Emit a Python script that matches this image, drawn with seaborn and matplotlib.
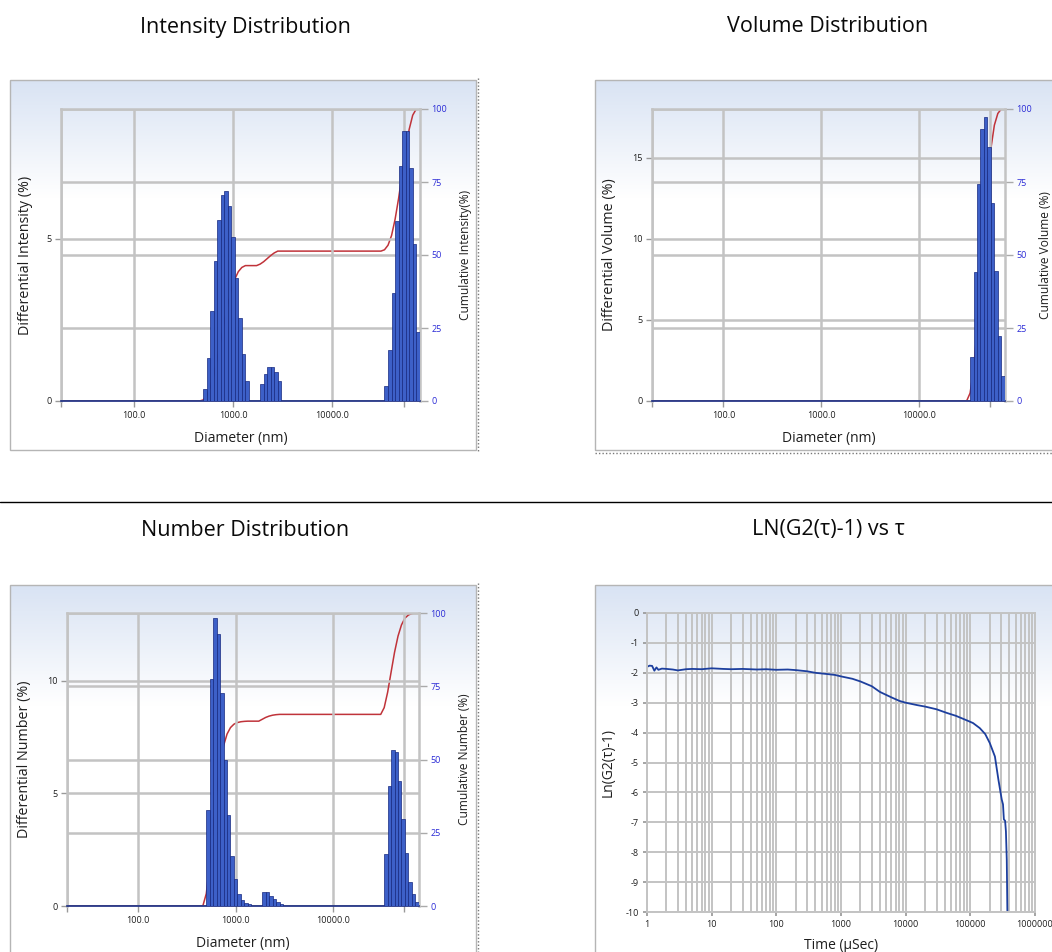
import numpy as np
import pandas as pd
import matplotlib
matplotlib.use("Agg")
import matplotlib.pyplot as plt
from matplotlib.lines import Line2D
from matplotlib.patches import Rectangle
from matplotlib.ticker import (LogLocator, NullFormatter, FuncFormatter,
                               NullLocator, FixedLocator)
import seaborn as sns

# ---------------- data ----------------
# bar centres (nm) shared by the intensity / number distributions
dist_diam = [520, 564, 612, 664, 721, 782, 849, 921, 1000, 1085, 1177, 1277, 1386,
             1949, 2115, 2295, 2490, 2702, 2933,
             34740, 37700, 40910, 44390, 48170, 52270, 56720, 61550, 66790, 72470]
intensity_pct = [0.36, 1.34, 2.76, 4.30, 5.58, 6.36, 6.46, 6.00, 5.04, 3.79, 2.57, 1.44, 0.63,
                 0.51, 0.83, 1.06, 1.06, 0.90, 0.63,
                 0.46, 1.57, 3.34, 5.55, 7.23, 8.31, 8.31, 7.18, 4.85, 2.14]
number_pct = [4.24, 10.07, 12.78, 12.08, 9.45, 6.46, 4.02, 2.23, 1.18, 0.55, 0.28, 0.13, 0.07,
              0.64, 0.64, 0.46, 0.31, 0.18, 0.10,
              2.31, 5.31, 6.92, 6.83, 5.54, 3.85, 2.34, 1.05, 0.52, 0.18]
volume_diam = [34740, 37700, 40910, 44390, 48170, 52270, 56720, 61550, 66790, 72470]
volume_pct = [2.69, 7.97, 13.40, 16.75, 17.53, 15.68, 12.20, 8.00, 4.00, 1.52]

diam_ticks = [18.6, 100, 1000, 10000, 53000]
diam_tick_labels = ["", "100.0", "1000.0", "10000.0", ""]
cum_ticks = [0, 25, 50, 75, 100]

# correlation function ln(G2(tau)-1)
tau_us = [1, 1.1, 1.2, 1.3, 1.4, 1.5, 1.7, 2, 2.5, 3, 4, 5, 7, 10, 15, 20, 30, 50, 70,
          100, 150, 200, 300, 400, 600, 800, 1000, 1500, 2000, 3000, 4000, 6000, 8000,
          10000, 15000, 20000, 30000, 43000, 60000, 88000, 110000, 140000, 170000,
          200000, 240000, 272000, 306000, 320000, 330000, 345000, 355000, 366000,
          374000, 380000]
ln_g2 = [-1.80, -1.76, -1.77, -1.93, -1.82, -1.90, -1.86, -1.87, -1.89, -1.92, -1.88,
         -1.87, -1.88, -1.85, -1.87, -1.88, -1.87, -1.89, -1.88, -1.90, -1.89, -1.91,
         -1.95, -2.00, -2.04, -2.07, -2.12, -2.20, -2.29, -2.45, -2.64, -2.82, -2.94,
         -3.00, -3.08, -3.13, -3.22, -3.34, -3.44, -3.59, -3.68, -3.85, -4.05, -4.35,
         -4.80, -5.58, -6.24, -6.40, -6.90, -6.95, -7.30, -8.25, -10.0, -10.6]

# ---------------- style ----------------
sns.set_theme(style="white")
plt.rcParams['font.family'] = ['Open Sans', 'DejaVu Sans']

W, H = 1052, 952
BW = 0.0355            # bar width in decades
XLIM = (18.6, 75900)
GRID = '#c3c3c3'
BAR_FILL = '#3d60c8'
BAR_EDGE = '#16287f'
RED = '#c0333a'
BLUE_TXT = '#2b2bd6'
TXT = '#1e1e1e'

fig = plt.figure(figsize=(W / 100, H / 100), dpi=100)
fig.patch.set_facecolor('white')


def frac(x0, y0, x1, y1):
    return [x0 / W, 1 - y1 / H, (x1 - x0) / W, (y1 - y0) / H]


def panel_bg(x0, y0, x1, y1):
    bg = fig.add_axes(frac(x0, y0, x1, y1), zorder=-5)
    t = np.clip(np.linspace(0, 1, 300) / 0.32, 0, 1)
    top = np.array([0.85, 0.89, 0.955])
    img = top[None, :] * (1 - t[:, None]) + np.ones(3)[None, :] * t[:, None]
    bg.imshow(img[:, None, :], aspect='auto', extent=[0, 1, 0, 1])
    bg.set_axis_off()
    bg.add_patch(Rectangle((0, 0), 1, 1, transform=bg.transAxes, fill=False,
                           ec='#b5b5b5', lw=1.0, clip_on=False))
    return bg


def dist_panel(axpx, diam, pct, ymax, yticks, ylab, rlab, lab_x, rlab_x, xlab_y):
    ax = fig.add_axes(frac(*axpx))
    lc = np.log10(np.asarray(diam, float))
    edges = []
    starts = []
    for i, c in enumerate(lc):
        edges.append(float(c - BW / 2))
        if i == 0 or c - lc[i - 1] > 1.5 * BW:
            starts.append(i)
        if i == len(lc) - 1 or lc[i + 1] - c > 1.5 * BW:
            edges.append(float(c + BW / 2))
    df = pd.DataFrame({'diam': diam, 'pct': pct})
    sns.histplot(data=df, x='diam', weights='pct', bins=edges,
                 log_scale=True, ax=ax, stat='count', element='bars', fill=True,
                 color=BAR_FILL, edgecolor=BAR_EDGE, linewidth=0.5, alpha=1,
                 shrink=1, zorder=3)

    # cumulative curve (drawn behind the bars on a twin axis)
    ax2 = ax.twinx()
    left = lc - BW / 2
    cum = np.cumsum(pct) / np.sum(pct) * 100
    cx, cy = [XLIM[0]], [0.0]
    for i in range(len(lc)):
        if i in starts:
            cx.append(10 ** (left[i] - BW))
            cy.append(cum[i - 1] if i > 0 else 0.0)
        cx.append(10 ** left[i])
        cy.append(cum[i])
    cx.append(XLIM[1])
    cy.append(100.0)
    sns.lineplot(x=cx, y=cy, ax=ax2, color=RED, lw=1.1, estimator=None, sort=False)

    ax.set_zorder(2)
    ax2.set_zorder(1)
    ax.patch.set_visible(False)
    ax2.patch.set_visible(False)

    ax.set_xlim(*XLIM)
    ax.set_ylim(0, ymax)
    ax2.set_ylim(0, 100)
    ax.xaxis.set_major_locator(FixedLocator(diam_ticks))
    ax.set_xticklabels(diam_tick_labels)
    ax.xaxis.set_minor_locator(NullLocator())
    ax.set_yticks(yticks)
    ax.set_yticklabels([str(v) for v in yticks])
    ax2.set_yticks(cum_ticks)
    ax2.set_yticklabels([str(v) for v in cum_ticks])

    ax.set_axisbelow(True)
    ax.grid(True, axis='both', color=GRID, lw=1.8)
    ax2.grid(True, axis='y', color=GRID, lw=1.8)
    ax2.grid(False, axis='x')

    for s in ['top', 'left', 'right']:
        ax.spines[s].set_color(GRID)
        ax.spines[s].set_linewidth(1.8)
    ax.spines['bottom'].set_color(BAR_EDGE)
    ax.spines['bottom'].set_linewidth(1.2)
    for s in ax2.spines.values():
        s.set_visible(False)

    ax.tick_params(axis='x', length=4, width=1, color='#999999', labelsize=6.5,
                   labelcolor=TXT, pad=3, bottom=True)
    ax.tick_params(axis='y', length=4, width=1, color='#999999', labelsize=6.5,
                   labelcolor=TXT, pad=3, left=True)
    ax2.tick_params(axis='y', length=6, width=1, color='#aaaaaa', labelsize=6.5,
                    labelcolor=BLUE_TXT, pad=2, right=True)

    ax.set_xlabel('Diameter (nm)', fontsize=10, color=TXT)
    ax.set_ylabel(ylab, fontsize=10.3, color=TXT)
    ax2.set_ylabel(rlab, fontsize=8.6, color=TXT)
    ax.yaxis.set_label_coords(lab_x, 0.5)
    ax2.yaxis.set_label_coords(rlab_x, 0.5)
    ax.xaxis.set_label_coords(0.5, xlab_y)
    return ax


# panel backgrounds
panel_bg(10, 80, 476, 450)
panel_bg(595, 80, 1060, 450)
panel_bg(10, 585, 476, 960)
panel_bg(595, 585, 1060, 960)

# titles
for txt, cx, cy in [("Intensity Distribution", 245, 27), ("Volume Distribution", 828, 27),
                    ("Number Distribution", 245, 530), ("LN(G2(τ)-1) vs τ", 828, 530)]:
    fig.text(cx / W, 1 - cy / H, txt, ha='center', va='center', fontsize=15.5, color='#0a0a0a')

# separator and dotted frames
fig.add_artist(Line2D([0, 1], [1 - 502 / H] * 2, color='black', lw=1.0))
for y0, y1 in [(78, 452), (583, 952)]:
    fig.add_artist(Line2D([478 / W] * 2, [1 - y0 / H, 1 - y1 / H], color='#777777',
                          lw=1.0, ls=(0, (1, 1.5))))
fig.add_artist(Line2D([595 / W, 1], [1 - 453 / H] * 2, color='#777777', lw=1.0,
                      ls=(0, (1, 1.5))))

dist_panel((61, 109, 420, 401), dist_diam, intensity_pct, 9, [0, 5],
           'Differential Intensity (%)', 'Cumulative Intensity(%)', -0.078, 1.108, -0.103)
dist_panel((652, 109, 1005, 401), volume_diam, volume_pct, 18, [0, 5, 10, 15],
           'Differential Volume (%)', 'Cumulative Volume (%)', -0.099, 1.097, -0.103)
dist_panel((67, 613, 419, 906), dist_diam, number_pct, 13, [0, 5, 10],
           'Differential Number (%)', 'Cumulative Number (%)', -0.099, 1.110, -0.102)

# correlation panel
axg = fig.add_axes(frac(647, 613, 1035, 912))
axg.set_xscale('log')
sns.lineplot(x=tau_us, y=ln_g2, ax=axg, color='#1d3f9e', lw=1.3, estimator=None, sort=False)
axg.patch.set_visible(False)
axg.set_xlim(1, 1e6)
axg.set_ylim(-10, 0)
axg.xaxis.set_major_locator(LogLocator(base=10, numticks=10))
axg.xaxis.set_minor_locator(LogLocator(base=10, subs=np.arange(2, 10), numticks=100))
axg.xaxis.set_major_formatter(FuncFormatter(lambda v, p: f"{int(round(v))}"))
axg.xaxis.set_minor_formatter(NullFormatter())
axg.set_yticks(range(-10, 1))
axg.set_yticklabels([str(v) for v in range(-10, 1)])
axg.set_axisbelow(True)
axg.grid(True, which='both', axis='x', color=GRID, lw=1.4)
axg.grid(True, which='major', axis='y', color=GRID, lw=1.4)
for s in axg.spines.values():
    s.set_color(GRID)
    s.set_linewidth(1.4)
axg.tick_params(axis='x', which='major', length=3, color='#999999', labelsize=6.5,
                labelcolor=TXT, pad=3, bottom=True)
axg.tick_params(axis='x', which='minor', length=0)
axg.tick_params(axis='y', length=3, color='#999999', labelsize=6.5, labelcolor=TXT,
                pad=3, left=True)
axg.set_xlabel('Time (µSec)', fontsize=10, color=TXT)
axg.set_ylabel('Ln(G2(τ)-1)', fontsize=10, color=TXT)
axg.yaxis.set_label_coords(-0.082, 0.5)
axg.xaxis.set_label_coords(0.5, -0.087)

fig.savefig('out.png', dpi=100, facecolor='white')
